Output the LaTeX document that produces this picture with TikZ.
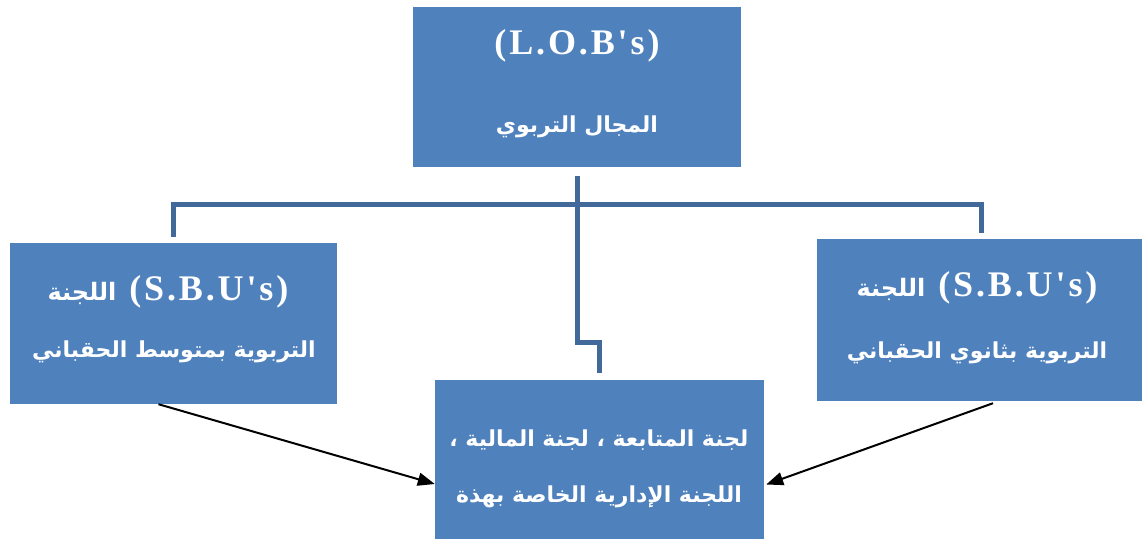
\documentclass[tikz,border=0pt]{standalone}
\usepackage{fontspec}
\setmainfont{Liberation Serif}
\newfontfamily\latinfont{Liberation Serif}[Ligatures=TeXOff,LetterSpace=8]
\newfontfamily\arabicfont[Script=Arabic]{DejaVu Sans}
\TeXXeTstate=1
\usetikzlibrary{arrows.meta}
\definecolor{boxblue}{HTML}{4F81BD}
\definecolor{connblue}{HTML}{41699A}
\tikzset{
  box/.style={rectangle, fill=boxblue, draw=none, inner sep=0pt},
  lat/.style={text=white, inner sep=0pt, font=\latinfont\bfseries\fontsize{36}{40}\selectfont},
  ara/.style={text=white, inner sep=0pt, font=\arabicfont\bfseries\fontsize{22}{28}\selectfont},
  mix/.style={text=white, inner sep=0pt},
  conn/.style={draw=connblue, line width=5pt},
  arr/.style={draw=black, line width=2pt, -{Triangle[length=17pt,width=13pt]}}
}
\newcommand{\sbuline}{\mbox{\arabicfont\bfseries\fontsize{24}{28}\selectfont\beginR اللجنة\endR}\kern13pt\mbox{\latinfont\bfseries\fontsize{36}{40}\selectfont(S.B.U's)}}
\begin{document}
\begin{tikzpicture}[x=1pt,y=-1pt]
\useasboundingbox (0,0) rectangle (1142,539);
% boxes
\node[box, minimum width=328pt, minimum height=160pt] (top) at (577,87) {};
\node[box, minimum width=327pt, minimum height=161pt] (left) at (173.5,323.5) {};
\node[box, minimum width=325pt, minimum height=162pt] (right) at (979.5,320) {};
\node[box, minimum width=329pt, minimum height=159pt] (bot) at (599.5,459.5) {};
% texts
\node[lat] (t1) at (577,46) {(L.O.B's)};
\node[ara] (t2) at (577,127) {\beginR المجال التربوي\endR};
\node[mix] (l1) at (168,292) {\sbuline};
\node[ara] (l2) at (174,352) {\beginR التربوية بمتوسط الحقباني\endR};
\node[mix] (r1) at (977,288) {\sbuline};
\node[ara] (r2) at (977,353) {\beginR التربوية بثانوي الحقباني\endR};
\node[ara] (b1) at (599,440) {\beginR لجنة المتابعة ، لجنة المالية ،\endR};
\node[ara] (b2) at (599,497) {\beginR اللجنة الإدارية الخاصة بهذة\endR};
% connectors
\draw[conn] ([yshift=-9pt]top.south) -- ++(0,166) -| ([yshift=7pt]bot.north);
\draw[conn] ([yshift=6pt]left.north) -- ++(0,-32) -| ([xshift=1.5pt,yshift=6pt]right.north);
% arrows
\draw[arr] ([xshift=-15pt]left.south) -- ([yshift=-24.5pt]bot.west);
\draw[arr] ([xshift=13.5pt,yshift=-2pt]right.south) -- ([xshift=2pt,yshift=-25pt]bot.east);
\end{tikzpicture}
\end{document}
